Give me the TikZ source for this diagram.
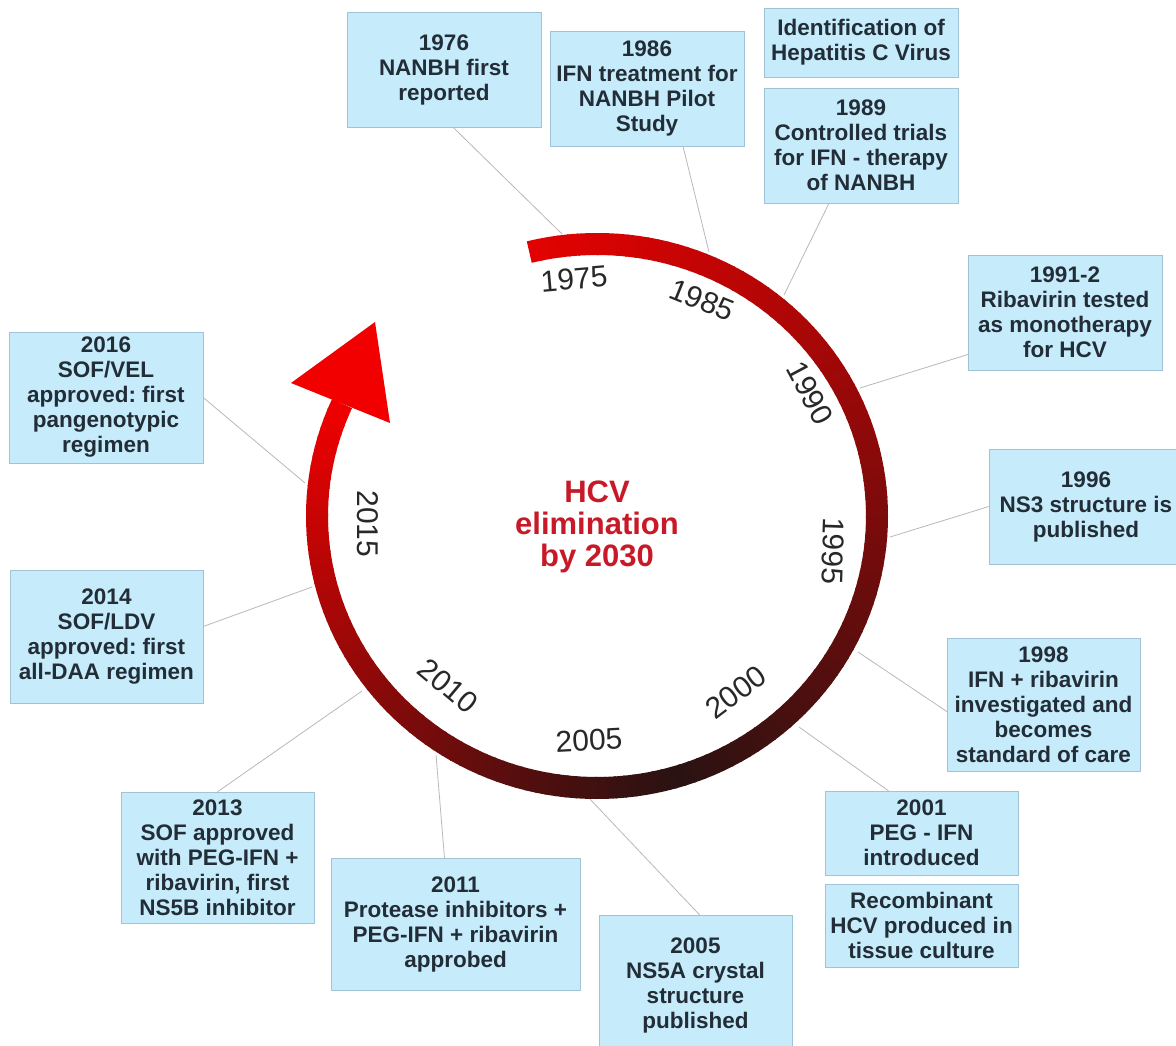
\documentclass[tikz,border=0pt]{standalone}
\usepackage{fontspec}
\setmainfont{Liberation Sans}
\usepackage{xcolor}
\frenchspacing

\definecolor{boxfill}{RGB}{198,236,251}
\definecolor{boxline}{RGB}{160,195,215}
\definecolor{boxtext}{RGB}{35,45,55}
\definecolor{arcred}{RGB}{242,0,0}
\definecolor{arcdark}{RGB}{42,18,18}
\definecolor{titlered}{RGB}{200,25,40}
\definecolor{yeargray}{RGB}{40,40,40}

\begin{document}
\begin{tikzpicture}[x=1pt, y=-1pt,
  evbox/.style={draw=boxline, fill=boxfill, text=boxtext, align=center, inner sep=0pt,
    minimum width=194pt, minimum height=115pt, font=\fontsize{22.5}{25}\selectfont\bfseries},
  yearlbl/.style={text=yeargray, font=\fontsize{30}{30}\selectfont, inner sep=0pt},
  link/.style={draw=gray!55, line width=0.8pt}]

% Page
\fill[white] (0,0) rectangle (1176,1046);
\useasboundingbox (0,0) rectangle (1176,1046);

% Event boxes
\node[evbox] (b1976) at (444,69.5) {1976\\NANBH first\\reported};
\node[evbox] (b1986) at (647,88.5) {1986\\IFN treatment for\\NANBH Pilot\\Study};
\node[evbox, minimum height=69pt] (bident) at (861,42.5) {Identification of\\Hepatitis C Virus};
\node[evbox] (b1989) at (861,145.5) {1989\\Controlled trials\\for IFN - therapy\\of NANBH};
\node[evbox] (b1991) at (1065,312.5) {1991-2\\Ribavirin tested\\as monotherapy\\for HCV};
\node[evbox] (b1996) at (1086,506.5) {1996\\NS3 structure is\\published};
\node[evbox, minimum width=193pt, minimum height=133pt] (b1998) at (1043.5,704.5) {1998\\IFN + ribavirin\\investigated and\\becomes\\standard of care};
\node[evbox, minimum width=193pt, minimum height=84pt] (b2001) at (921.5,833) {2001\\PEG - IFN\\introduced};
\node[evbox, minimum width=193pt, minimum height=83pt] (brecomb) at (921.5,925.5) {Recombinant\\HCV produced in\\tissue culture};
\node[evbox, minimum width=193pt, minimum height=140pt] (b2005) at (695.5,985) {2005\\NS5A crystal\\structure\\published};
\node[evbox, minimum width=249pt, minimum height=132pt] (b2011) at (455.5,924) {2011\\Protease inhibitors +\\PEG-IFN + ribavirin\\approbed};
\node[evbox, minimum width=193pt, minimum height=131pt] (b2013) at (217.5,857.5) {2013\\SOF approved\\with PEG-IFN +\\ribavirin, first\\NS5B inhibitor};
\node[evbox, minimum width=193pt, minimum height=133pt] (b2014) at (106.5,636.5) {2014\\SOF/LDV\\approved: first\\all-DAA regimen};
\node[evbox, minimum height=131pt] (b2016) at (106,397.5) {2016\\SOF/VEL\\approved: first\\pangenotypic\\regimen};

% Points on the ring
\coordinate (a1976) at (562,234);
\coordinate (a1986) at (709,252);
\coordinate (a1989) at (784,295);
\coordinate (a1991) at (860,388);
\coordinate (a1996) at (890,537);
\coordinate (a1998) at (858,652);
\coordinate (a2001) at (799,727);
\coordinate (a2005) at (588,797);
\coordinate (a2011) at (436,755);
\coordinate (a2013) at (362,691);
\coordinate (a2014) at (312,587);
\coordinate (a2016) at (305,483);

% Connectors
\draw[link] ([xshift=9pt]b1976.south) -- (a1976);
\draw[link] ([xshift=36pt]b1986.south) -- (a1986);
\draw[link] ([xshift=-32pt]b1989.south) -- (a1989);
\draw[link] ([yshift=-42pt]b1991.west) -- (a1991);
\draw[link] (b1996.west) -- (a1996);
\draw[link] ([yshift=-7pt]b1998.west) -- (a1998);
\draw[link] ([xshift=-33pt]b2001.north) -- (a2001);
\draw[link] ([xshift=4pt]b2005.north) -- (a2005);
\draw[link] ([xshift=-11pt]b2011.north) -- (a2011);
\draw[link] (b2013.north) -- (a2013);
\draw[link] ([yshift=10pt]b2014.east) -- (a2014);
\draw[link] (b2016.east) -- (a2016);

% Ring, red -> dark -> red
\foreach \i in {0,...,153}{
  \ifnum\i<88
    \pgfmathsetmacro\p{92*(1-((\i+0.01)/88)^1.1)}
  \else
    \pgfmathsetmacro\p{100*((\i-87.99)/66)^1.1}
  \fi
  \pgfmathsetmacro\a{104-2*\i}
  \draw[line width=22pt, draw=arcred!\p!arcdark] (597,516) ++(\a:280pt and 272pt)
    arc[start angle=\a, end angle=\a-2.4, x radius=280pt, y radius=272pt];
}

% Arrow head
\fill[arcred] (375,322) -- (291,383) -- (390,423) -- cycle;

% Centre
\node[text=titlered, align=center, font=\fontsize{31}{32}\selectfont\bfseries] (title) at (597,527) {HCV\\elimination\\by 2030};

% Years
\node[yearlbl, rotate=5] (y1975) at (574,279) {1975};
\node[yearlbl, rotate=-22] (y1985) at (702,300) {1985};
\node[yearlbl, rotate=-62] (y1990) at (810,393) {1990};
\node[yearlbl, rotate=-92] (y1995) at (833,551) {1995};
\node[yearlbl, rotate=37] (y2000) at (736,692) {2000};
\node[yearlbl, rotate=3] (y2005) at (589,740) {2005};
\node[yearlbl, rotate=-40] (y2010) at (448,686) {2010};
\node[yearlbl, rotate=-90] (y2015) at (368,524) {2015};
\end{tikzpicture}
\end{document}
